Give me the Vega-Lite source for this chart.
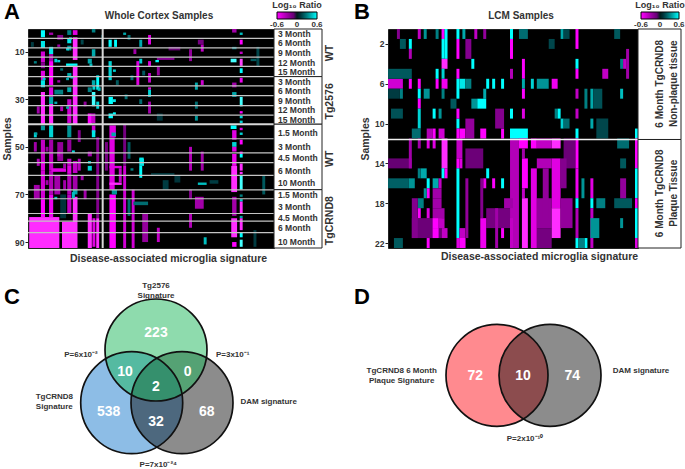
{
"$schema":"https://vega.github.io/schema/vega-lite/v6.json",
"background":"white",
"padding":{"left":1,"top":0,"right":0,"bottom":0},
"bounds":"flush","align":"none","columns":4,"spacing":{"row":22,"column":0},
"resolve":{"scale":{"color":"independent"}},
"config":{"font":"Liberation Sans","view":{"stroke":null}},
"datasets":{
"wc":[
{"g":0.4,"h":10.7,"a":79.5,"b":92.5,"v":-0.65},{"g":11.6,"h":16.7,"a":81.5,"b":92.5,"v":-0.65},{"g":4.4,"h":5.8,"a":1,"b":4,"v":0.6},{"g":4.4,"h":5.8,"a":5.5,"b":8.5,"v":0.55},{"g":4.4,"h":5.8,"a":10,"b":14.5,"v":-0.45},{"g":4.4,"h":5.8,"a":14.5,"b":17,"v":-0.2},{"g":4.4,"h":5.8,"a":18,"b":22,"v":-0.5},{"g":4.4,"h":5.8,"a":22,"b":25,"v":0.55},{"g":4.4,"h":5.8,"a":27,"b":40.5,"v":-0.65},{"g":4.4,"h":5.8,"a":41,"b":43,"v":0.35},{"g":4.4,"h":5.8,"a":47,"b":56,"v":-0.4},{"g":4.4,"h":5.8,"a":56,"b":60,"v":-0.5},{"g":4.4,"h":5.8,"a":60,"b":72,"v":-0.45},{"g":4.4,"h":5.8,"a":72,"b":79.5,"v":-0.6},
{"g":7.2,"h":8.6,"a":2,"b":3,"v":-0.3},{"g":7.2,"h":8.6,"a":8,"b":11,"v":0.55},{"g":7.2,"h":8.6,"a":11,"b":14,"v":-0.3},{"g":7.2,"h":8.6,"a":14,"b":24,"v":-0.6},{"g":7.2,"h":8.6,"a":25,"b":29,"v":-0.5},{"g":7.2,"h":8.6,"a":29,"b":32,"v":0.4},{"g":7.2,"h":8.6,"a":32,"b":40.5,"v":-0.65},{"g":7.2,"h":8.6,"a":41,"b":46,"v":0.5},{"g":7.2,"h":8.6,"a":47,"b":53,"v":-0.3},{"g":7.2,"h":8.6,"a":53,"b":60,"v":-0.4},{"g":7.2,"h":8.6,"a":60,"b":70,"v":-0.35},{"g":7.2,"h":8.6,"a":70,"b":79.5,"v":-0.55},
{"g":10,"h":11,"a":13.5,"b":14.5,"v":0.5},{"g":2,"h":3,"a":44,"b":46,"v":0.5},{"g":8,"h":13,"a":59,"b":60.5,"v":-0.5},{"g":9,"h":12,"a":26,"b":28,"v":0.3},{"g":10,"h":12,"a":3,"b":5,"v":-0.2},{"g":2,"h":4,"a":66,"b":72,"v":-0.3},{"g":10,"h":12,"a":48,"b":56,"v":-0.25},{"g":9,"h":11,"a":62,"b":70,"v":-0.3},{"g":11,"h":13,"a":70,"b":80,"v":0.1},
{"g":13.4,"h":14.8,"a":1,"b":3,"v":0.3},{"g":13.4,"h":14.8,"a":4.5,"b":6.5,"v":0.55},{"g":13.4,"h":14.8,"a":7.5,"b":9.5,"v":0.35},{"g":13,"h":16.9,"a":15,"b":16,"v":0.6},{"g":13.4,"h":14.8,"a":19,"b":21,"v":0.4},{"g":13.4,"h":14.8,"a":25,"b":27,"v":0.4},{"g":13.4,"h":14.8,"a":30,"b":33,"v":-0.4},{"g":13.4,"h":14.8,"a":33,"b":40,"v":-0.45},{"g":13.4,"h":14.8,"a":41,"b":46,"v":0.35},{"g":13.4,"h":14.8,"a":47,"b":52,"v":-0.25},{"g":13.4,"h":14.8,"a":55,"b":58,"v":-0.4},{"g":13.4,"h":14.8,"a":58,"b":61,"v":-0.5},{"g":13.4,"h":14.8,"a":61,"b":70,"v":-0.35},{"g":13.4,"h":14.8,"a":70,"b":78,"v":-0.4},
{"g":15.3,"h":16.9,"a":1,"b":3,"v":-0.5},{"g":15.3,"h":16.9,"a":4,"b":13.5,"v":-0.65},{"g":15.3,"h":16.9,"a":16,"b":40.5,"v":-0.65},{"g":15.3,"h":16.9,"a":56,"b":61,"v":-0.4},{"g":15.3,"h":16.9,"a":62,"b":68,"v":-0.3},{"g":15.3,"h":16.9,"a":68,"b":70,"v":0.4},{"g":15.3,"h":16.9,"a":71,"b":92.5,"v":-0.65},
{"g":20.4,"h":21.8,"a":13,"b":15,"v":0.4},{"g":20.4,"h":21.8,"a":25,"b":27,"v":0.3},{"g":20.4,"h":21.8,"a":36,"b":40.5,"v":-0.6},{"g":20.4,"h":21.8,"a":58,"b":60,"v":0.5},{"g":20.4,"h":21.8,"a":52,"b":54,"v":-0.3},{"g":20.4,"h":21.8,"a":78,"b":92.5,"v":-0.65},
{"g":21.8,"h":23,"a":0.5,"b":2,"v":0.3},{"g":21.8,"h":23,"a":9,"b":12,"v":0.4},{"g":21.8,"h":23,"a":22,"b":24,"v":0.4},{"g":21.8,"h":23,"a":27,"b":33,"v":0.65},{"g":21.8,"h":23,"a":36,"b":40,"v":-0.4},{"g":21.8,"h":23,"a":41,"b":44,"v":-0.45},{"g":21.8,"h":23,"a":43,"b":46,"v":0.55},{"g":22,"h":23,"a":80,"b":92,"v":-0.5},{"g":23.3,"h":24.3,"a":20,"b":26,"v":0.6},{"g":23.3,"h":24.3,"a":31,"b":34,"v":0.5},{"g":23.3,"h":24.3,"a":46,"b":80,"v":-0.2},{"g":23.3,"h":24.3,"a":80,"b":92.5,"v":-0.65},
{"g":27.5,"h":28.6,"a":5,"b":8,"v":0.6},{"g":27.5,"h":28.6,"a":14,"b":22,"v":0.5},{"g":29.4,"h":30.4,"a":5,"b":8,"v":0.6},{"g":27.5,"h":29,"a":29,"b":32,"v":0.6},{"g":27.5,"h":29,"a":36,"b":38,"v":0.6},{"g":27.8,"h":30,"a":41,"b":46,"v":-0.5},{"g":27.8,"h":29.6,"a":46,"b":68,"v":-0.5},{"g":27.8,"h":32,"a":58,"b":59,"v":-0.5},{"g":27.8,"h":32,"a":65,"b":66,"v":-0.65},{"g":27.8,"h":30,"a":70,"b":92.5,"v":-0.6},{"g":28.6,"h":30.4,"a":68,"b":70,"v":0.35},{"g":31,"h":32,"a":59,"b":65,"v":-0.4},
{"g":32.5,"h":33.5,"a":2,"b":3,"v":0.4},{"g":32.5,"h":33.5,"a":40.5,"b":58,"v":-0.15},{"g":32.5,"h":33.5,"a":58,"b":92.5,"v":-0.45},{"g":35.4,"h":36.4,"a":68,"b":92.5,"v":-0.45},{"g":38,"h":39.6,"a":55,"b":58,"v":0.55},{"g":38,"h":39,"a":58,"b":63,"v":0.6},{"g":34,"h":35,"a":72,"b":79,"v":0.25},{"g":36,"h":41,"a":73,"b":74.5,"v":0.25},{"g":37,"h":38,"a":14,"b":24,"v":-0.5},{"g":38,"h":39,"a":5,"b":8,"v":0.4},{"g":41,"h":42,"a":3,"b":7,"v":-0.5},{"g":41,"h":42,"a":14,"b":16,"v":-0.5},{"g":41,"h":42,"a":19,"b":23,"v":-0.4},{"g":41,"h":42,"a":25,"b":26,"v":-0.5},{"g":41,"h":42,"a":26,"b":29,"v":0.5},{"g":41,"h":42,"a":31,"b":36,"v":-0.3},{"g":34,"h":35,"a":48,"b":55,"v":0.2},{"g":39,"h":41,"a":78,"b":90,"v":-0.25},{"g":38,"h":39,"a":13,"b":15,"v":0.5},
{"g":14,"h":15,"a":4,"b":5,"v":0.5},{"g":13,"h":14,"a":8.5,"b":9.5,"v":0.5},{"g":9,"h":10,"a":13,"b":14.5,"v":0.5},{"g":21,"h":22,"a":15,"b":16.5,"v":0.45},{"g":29,"h":30,"a":17.5,"b":18.5,"v":0.5},{"g":5,"h":6,"a":21,"b":22,"v":0.5},{"g":13,"h":14,"a":21,"b":22,"v":0.4},{"g":14.5,"h":15.5,"a":20.3,"b":21.3,"v":0.45},{"g":23.8,"h":24.8,"a":25,"b":26.5,"v":0.45},{"g":22,"h":23,"a":24.5,"b":26,"v":0.5},{"g":29,"h":30,"a":30,"b":31.2,"v":0.55},{"g":9,"h":10,"a":31,"b":32,"v":0.4},{"g":13,"h":14,"a":33,"b":34,"v":0.4},{"g":29,"h":30,"a":35.5,"b":36.5,"v":0.6},{"g":2.2,"h":3.2,"a":44,"b":45,"v":0.4},{"g":28.5,"h":30,"a":44,"b":45.5,"v":0.4},{"g":15,"h":16,"a":51.5,"b":52.5,"v":0.5},{"g":20.5,"h":21.5,"a":56,"b":57,"v":0.5},{"g":38,"h":39.5,"a":54.5,"b":55.5,"v":0.55},{"g":35,"h":36,"a":59,"b":60,"v":0.3},{"g":9,"h":10,"a":71,"b":72,"v":0.45},{"g":15,"h":16,"a":69,"b":71.5,"v":0.45},
{"g":1,"h":2,"a":6,"b":8,"v":0.12},{"g":10,"h":11,"a":7,"b":8,"v":-0.3},{"g":11,"h":12,"a":17,"b":18,"v":0.25},{"g":2,"h":3,"a":14,"b":15,"v":0.3},{"g":10,"h":11,"a":22,"b":23,"v":-0.3},{"g":11,"h":12,"a":33,"b":35,"v":-0.35},{"g":3,"h":4,"a":33,"b":36,"v":-0.3},{"g":2,"h":3,"a":48,"b":52,"v":-0.3},{"g":3,"h":4,"a":55,"b":58,"v":-0.35},{"g":6,"h":7,"a":50,"b":52,"v":-0.25},{"g":10,"h":11,"a":52,"b":54,"v":-0.35},{"g":12,"h":13,"a":57,"b":59,"v":-0.3},{"g":6,"h":7,"a":64,"b":66,"v":-0.3},{"g":12,"h":13,"a":64,"b":68,"v":-0.3},{"g":17,"h":18,"a":43,"b":48,"v":-0.2},{"g":17,"h":18,"a":55,"b":60,"v":-0.35},{"g":25,"h":25.5,"a":3,"b":9,"v":0.15},{"g":34,"h":35,"a":3,"b":5,"v":0.25},{"g":35,"h":36,"a":20,"b":22,"v":0.25},{"g":36,"h":37,"a":9,"b":11,"v":-0.3},{"g":30,"h":31,"a":22,"b":24,"v":0.2},{"g":39,"h":40,"a":18,"b":20,"v":0.2},{"g":33,"h":34,"a":28,"b":30,"v":0.25},{"g":38,"h":39,"a":30,"b":32,"v":0.25},{"g":18,"h":19,"a":5,"b":7,"v":0.15},{"g":19,"h":20,"a":31,"b":33,"v":-0.25},{"g":26.3,"h":27.3,"a":48,"b":60,"v":-0.15},{"g":18,"h":19,"a":62,"b":64,"v":-0.3},{"g":19,"h":20,"a":68,"b":72,"v":-0.3},
{"g":43.5,"h":44.7,"a":13.5,"b":14.5,"v":0.6},{"g":44,"h":50,"a":12.5,"b":13.5,"v":-0.2},{"g":44,"h":45,"a":16,"b":20,"v":-0.25},{"g":44,"h":45,"a":84,"b":90,"v":-0.4},{"g":55,"h":56,"a":9,"b":14,"v":-0.25},{"g":55,"h":56,"a":50,"b":60,"v":-0.35},{"g":55,"h":56,"a":68,"b":72,"v":-0.2},{"g":55,"h":56,"a":78,"b":84,"v":-0.35},{"g":57,"h":58,"a":23,"b":26,"v":0.4},{"g":57,"h":58,"a":31,"b":34,"v":0.25},{"g":57,"h":58,"a":37,"b":39,"v":0.35},{"g":59,"h":60,"a":7,"b":10,"v":-0.4},{"g":59,"h":60,"a":22,"b":24,"v":-0.45},{"g":59,"h":60,"a":52,"b":60,"v":-0.3},{"g":58,"h":61,"a":65,"b":66,"v":0.45},{"g":57,"h":60,"a":71,"b":76,"v":-0.3},{"g":60,"h":61,"a":88,"b":91,"v":0.45},{"g":42,"h":50,"a":61,"b":62,"v":0.1},{"g":44,"h":46,"a":36,"b":39,"v":0.1},{"g":46,"h":48,"a":64,"b":68,"v":0.12},{"g":80,"h":81,"a":62,"b":70,"v":0.2},{"g":78,"h":79,"a":8,"b":16,"v":0.15},{"g":76,"h":78,"a":13,"b":14,"v":0.2},{"g":77,"h":78,"a":85,"b":92,"v":0.12},{"g":50,"h":52,"a":62,"b":65,"v":0.1},{"g":62,"h":65,"a":64,"b":65.5,"v":0.12},{"g":48,"h":52,"a":8,"b":9.5,"v":-0.1},{"g":58,"h":60,"a":5,"b":7,"v":-0.15},
{"g":69.7,"h":71.2,"a":0.5,"b":2,"v":-0.3},{"g":69.7,"h":71.2,"a":8,"b":9,"v":0.3},{"g":69.2,"h":71.2,"a":13,"b":14.5,"v":0.65},{"g":69.7,"h":71.2,"a":23,"b":25,"v":-0.3},{"g":69.7,"h":71.2,"a":27,"b":29,"v":0.4},{"g":69.2,"h":71.2,"a":41,"b":42.5,"v":0.6},{"g":69.7,"h":71.2,"a":43,"b":47,"v":-0.5},{"g":69.7,"h":71.2,"a":48,"b":50,"v":0.5},{"g":69.7,"h":71.2,"a":50,"b":52,"v":-0.5},{"g":69.7,"h":71.2,"a":53,"b":58,"v":-0.55},{"g":69.4,"h":71.4,"a":58,"b":69,"v":-0.65},{"g":69.7,"h":71.2,"a":71,"b":79,"v":-0.3},{"g":69.4,"h":71.4,"a":80,"b":88,"v":-0.65},{"g":69.7,"h":71.2,"a":90,"b":92,"v":-0.6},
{"g":72.3,"h":73.3,"a":2,"b":3,"v":0.45},{"g":72.3,"h":73.3,"a":5,"b":7,"v":-0.6},{"g":72.3,"h":73.3,"a":10,"b":11,"v":-0.4},{"g":72.3,"h":73.3,"a":13,"b":16,"v":-0.7},{"g":72.3,"h":73.3,"a":17,"b":19,"v":0.6},{"g":72.3,"h":73.3,"a":21,"b":23,"v":-0.55},{"g":72.3,"h":73.3,"a":29,"b":33,"v":0.65},{"g":72.3,"h":73.3,"a":35,"b":36,"v":-0.6},{"g":72.3,"h":73.3,"a":37,"b":38,"v":0.5},{"g":72.3,"h":73.3,"a":39,"b":40,"v":0.5},{"g":72.3,"h":73.3,"a":42,"b":43,"v":-0.5},{"g":72.3,"h":73.3,"a":44,"b":45,"v":0.5},{"g":72.3,"h":73.3,"a":47,"b":49,"v":-0.6},{"g":72.3,"h":73.3,"a":52,"b":53,"v":-0.6},{"g":72.3,"h":73.3,"a":53,"b":54.5,"v":0.6},{"g":72.3,"h":73.3,"a":57,"b":60,"v":-0.65},{"g":72.3,"h":73.3,"a":60.5,"b":61.5,"v":-0.65},{"g":72.3,"h":73.3,"a":62,"b":68,"v":0.65},{"g":72.3,"h":73.3,"a":70,"b":71,"v":0.3},{"g":72.3,"h":73.3,"a":72,"b":73,"v":0.5},{"g":72.3,"h":73.3,"a":73,"b":78,"v":-0.65},{"g":72.3,"h":73.3,"a":79,"b":80,"v":0.4},{"g":72.3,"h":73.3,"a":80,"b":85,"v":-0.65},{"g":72.3,"h":73.3,"a":86,"b":88,"v":0.6},{"g":72.3,"h":73.3,"a":89,"b":92,"v":0.65}
],
"wcsep":[{"s":4.4},{"s":8.4},{"s":12.3},{"s":16.2},{"s":20.5},{"s":24.4},{"s":28.5},{"s":32.7},{"s":36.7},{"s":46.6},{"s":52.5},{"s":56.6},{"s":62},{"s":68.1},{"s":71.8},{"s":78},{"s":81.2},{"s":86}],
"lcm":[
{"g":41,"h":44,"a":11.5,"b":22.5,"v":-0.35},{"g":50,"h":55,"a":17.5,"b":20.5,"v":-0.25},{"g":50,"h":55,"a":20.5,"b":22.5,"v":-0.15},{"g":59,"h":63,"a":11.5,"b":14.5,"v":-0.12},{"g":8,"h":18,"a":19.5,"b":21.5,"v":-0.12},{"g":26,"h":32,"a":12.5,"b":14.5,"v":-0.12},{"g":33,"h":41,"a":18.5,"b":20.5,"v":-0.15},{"g":0,"h":8,"a":13.5,"b":14.5,"v":-0.1},
{"g":18,"h":19,"a":0.5,"b":1.5,"v":-0.6},{"g":19,"h":20,"a":0.5,"b":3.5,"v":0.6},{"g":18,"h":19,"a":1.5,"b":3.5,"v":0.6},{"g":18,"h":20,"a":3.5,"b":4.5,"v":-0.65},{"g":7,"h":8,"a":1.5,"b":2.5,"v":0.6},{"g":7,"h":8,"a":2.5,"b":3.5,"v":-0.35},
{"g":23,"h":24,"a":0.5,"b":1.5,"v":0.6},{"g":23,"h":24,"a":1.5,"b":3.5,"v":-0.6},{"g":23,"h":24,"a":4.5,"b":5.5,"v":-0.6},{"g":23,"h":24,"a":5.5,"b":7.5,"v":0.6},{"g":23,"h":24,"a":9.5,"b":10.5,"v":0.6},{"g":23,"h":24,"a":10.5,"b":11.5,"v":-0.6},{"g":23,"h":25,"a":11.5,"b":13.5,"v":-0.4},{"g":23,"h":24,"a":13.5,"b":14.5,"v":-0.6},{"g":23,"h":24,"a":14.5,"b":21.5,"v":0.6},{"g":23,"h":24,"a":21.5,"b":22.5,"v":-0.5},{"g":24,"h":26,"a":10.5,"b":11.5,"v":-0.6},{"g":24,"h":25,"a":13.5,"b":14.5,"v":-0.5},{"g":24,"h":26,"a":20.5,"b":22.5,"v":-0.4},{"g":25,"h":26,"a":0.5,"b":1.5,"v":0.4},{"g":28,"h":29,"a":3.5,"b":4.5,"v":0.6},
{"g":0,"h":5,"a":5.5,"b":6.5,"v":-0.45},{"g":7,"h":8,"a":5.5,"b":6.5,"v":-0.6},{"g":10,"h":11,"a":5.5,"b":6.5,"v":-0.6},{"g":16,"h":17,"a":5.5,"b":6.5,"v":-0.6},{"g":18,"h":20,"a":5.5,"b":6.5,"v":-0.55},{"g":24,"h":26,"a":5.5,"b":6.5,"v":0.55},{"g":26,"h":28,"a":5.5,"b":6.5,"v":0.3},{"g":33,"h":34,"a":5.5,"b":6.5,"v":0.6},{"g":35,"h":36,"a":5.5,"b":6.5,"v":0.6},{"g":38,"h":39,"a":5.5,"b":6.5,"v":0.6},{"g":0,"h":8,"a":4.5,"b":5.5,"v":0.2},{"g":16,"h":17,"a":4.5,"b":5.5,"v":0.6},{"g":18,"h":19,"a":4.5,"b":5.5,"v":0.5},
{"g":10,"h":11,"a":6.5,"b":7.5,"v":0.6},{"g":10,"h":11,"a":7.5,"b":8.5,"v":-0.6},{"g":10,"h":11,"a":8.5,"b":10.5,"v":0.5},{"g":12,"h":14,"a":6.5,"b":7.5,"v":0.35},{"g":4,"h":5,"a":6.5,"b":7.5,"v":0.3},{"g":0,"h":4,"a":6.5,"b":7.5,"v":0.12},{"g":18,"h":19,"a":6.5,"b":7.5,"v":0.3},{"g":32,"h":33,"a":6.5,"b":7.5,"v":0.4},{"g":28,"h":30,"a":7.5,"b":8.5,"v":0.35},{"g":30,"h":33,"a":7.5,"b":8.5,"v":0.6},{"g":21,"h":23,"a":7.5,"b":8.5,"v":0.2},{"g":15,"h":16,"a":8.5,"b":9.5,"v":0.6},{"g":17,"h":18,"a":8.5,"b":9.5,"v":0.35},{"g":23,"h":24,"a":8.5,"b":9.5,"v":-0.6},{"g":1,"h":5,"a":8.5,"b":9.5,"v":0.18},{"g":8,"h":11,"a":10.5,"b":11.5,"v":0.25},{"g":13,"h":15,"a":10.5,"b":11.5,"v":-0.35},{"g":15,"h":16,"a":10.5,"b":11.5,"v":-0.6},{"g":17,"h":19,"a":10.5,"b":11.5,"v":-0.45},{"g":31,"h":33,"a":10.5,"b":11.5,"v":-0.6},{"g":38,"h":39,"a":10.5,"b":11.5,"v":-0.6},{"g":41,"h":42,"a":10.5,"b":11.5,"v":0.6},
{"g":18,"h":20,"a":11.5,"b":14.5,"v":-0.65},{"g":18,"h":19,"a":14.5,"b":15.5,"v":0.6},{"g":19,"h":20,"a":14.5,"b":15.5,"v":-0.6},{"g":7,"h":8,"a":11.5,"b":14.5,"v":-0.3},{"g":10,"h":11,"a":11.5,"b":12.5,"v":-0.3},{"g":13,"h":14,"a":11.5,"b":12.5,"v":-0.5},{"g":15,"h":16,"a":11.5,"b":12.5,"v":-0.5},{"g":11,"h":13,"a":14.5,"b":15.5,"v":0.4},{"g":10,"h":11,"a":14.5,"b":15.5,"v":0.3},{"g":33,"h":34,"a":14.5,"b":15.5,"v":0.6},{"g":0,"h":7,"a":15.5,"b":16.5,"v":0.22},{"g":7,"h":9,"a":15.5,"b":16.5,"v":0.35},{"g":13,"h":14,"a":15.5,"b":16.5,"v":0.6},{"g":15,"h":17,"a":15.5,"b":16.5,"v":0.4},{"g":17,"h":18,"a":15.5,"b":16.5,"v":-0.4},{"g":32,"h":33,"a":15.5,"b":16.5,"v":-0.55},{"g":35,"h":36,"a":15.5,"b":16.5,"v":-0.6},{"g":38,"h":39,"a":15.5,"b":16.5,"v":0.6},
{"g":13,"h":14,"a":16.5,"b":17.5,"v":-0.6},{"g":12,"h":13,"a":16.5,"b":17.5,"v":0.35},{"g":15,"h":18,"a":16.5,"b":17.5,"v":-0.3},{"g":10,"h":12,"a":17.5,"b":18.5,"v":0.3},{"g":15,"h":18,"a":17.5,"b":18.5,"v":-0.3},{"g":10,"h":11,"a":18.5,"b":19.5,"v":-0.6},{"g":13,"h":14,"a":18.5,"b":19.5,"v":-0.5},{"g":15,"h":19,"a":18.5,"b":19.5,"v":-0.3},{"g":15,"h":17,"a":19.5,"b":20.5,"v":-0.6},{"g":17,"h":19,"a":19.5,"b":20.5,"v":-0.4},{"g":15,"h":17,"a":20.5,"b":21.5,"v":-0.6},{"g":18,"h":20,"a":20.5,"b":21.5,"v":-0.4},{"g":2,"h":5,"a":21.5,"b":22.5,"v":0.2},{"g":13,"h":14,"a":21.5,"b":22.5,"v":-0.6},{"g":24,"h":26,"a":21.5,"b":22.5,"v":-0.6},{"g":31,"h":33,"a":19.5,"b":22.5,"v":-0.55},{"g":38,"h":39,"a":20.5,"b":21.5,"v":-0.6},{"g":41,"h":42,"a":19.5,"b":22.5,"v":-0.4},{"g":39,"h":42,"a":17.5,"b":18.5,"v":-0.3},{"g":31,"h":32,"a":15.5,"b":19.5,"v":-0.2},{"g":36,"h":37,"a":18.5,"b":22.5,"v":-0.3},
{"g":41,"h":42,"a":0.5,"b":1.5,"v":0.6},{"g":41,"h":42,"a":1.5,"b":3.5,"v":-0.6},{"g":41,"h":42,"a":4.5,"b":5.5,"v":-0.35},{"g":41,"h":42,"a":8.5,"b":9.5,"v":0.6},{"g":44,"h":47,"a":0.5,"b":1.5,"v":0.25},{"g":45,"h":46,"a":3.5,"b":5.5,"v":-0.6},{"g":45,"h":46,"a":5.5,"b":6.5,"v":0.4},{"g":45,"h":46,"a":6.5,"b":7.5,"v":-0.6},{"g":45,"h":46,"a":8.5,"b":9.5,"v":-0.5},{"g":42,"h":47,"a":10.5,"b":11.5,"v":0.6},{"g":48,"h":49,"a":5.5,"b":6.5,"v":0.5},{"g":50,"h":54,"a":5.5,"b":6.5,"v":0.35},{"g":55,"h":57,"a":5.5,"b":6.5,"v":-0.55},{"g":56,"h":57,"a":8.5,"b":9.5,"v":0.3},{"g":57,"h":58,"a":8.5,"b":9.5,"v":0.6},{"g":58,"h":59,"a":9.5,"b":10.5,"v":0.5},{"g":59,"h":61,"a":9.5,"b":10.5,"v":0.25},
{"g":63,"h":64,"a":0.5,"b":2.5,"v":-0.6},{"g":63,"h":64,"a":3.5,"b":4.5,"v":0.6},{"g":63,"h":64,"a":4.5,"b":5.5,"v":-0.6},{"g":63,"h":64,"a":6.5,"b":7.5,"v":-0.4},{"g":63,"h":64,"a":8.5,"b":9.5,"v":-0.4},{"g":63,"h":64,"a":10.5,"b":11.5,"v":0.6},{"g":63,"h":64,"a":11.5,"b":14.5,"v":-0.6},{"g":63,"h":64,"a":14.5,"b":17.5,"v":-0.55},{"g":63,"h":64,"a":17.5,"b":18.5,"v":0.6},{"g":63,"h":64,"a":18.5,"b":21.5,"v":-0.35},{"g":63,"h":64,"a":21.5,"b":22.5,"v":0.6},
{"g":66,"h":67,"a":6.5,"b":8.5,"v":0.3},{"g":68,"h":69,"a":6.5,"b":8.5,"v":0.4},{"g":69,"h":72,"a":6.5,"b":8.5,"v":0.18},{"g":68,"h":69,"a":9.5,"b":10.5,"v":0.4},{"g":78,"h":79,"a":3.5,"b":4.5,"v":0.3},{"g":78,"h":79,"a":6.5,"b":7.5,"v":0.45},{"g":79,"h":80,"a":3.5,"b":4.5,"v":-0.4},{"g":76,"h":78,"a":0.5,"b":1.5,"v":0.2},{"g":58,"h":59,"a":0.5,"b":1.5,"v":0.4},{"g":59,"h":61,"a":0.5,"b":1.5,"v":0.15},
{"g":83,"h":84,"a":10.5,"b":11.5,"v":0.6},{"g":83,"h":84,"a":11.5,"b":14.5,"v":-0.6},{"g":83,"h":84,"a":14.5,"b":17.5,"v":0.6},{"g":83,"h":84,"a":17.5,"b":18.5,"v":-0.6},{"g":83,"h":84,"a":18.5,"b":21.5,"v":0.6},{"g":83,"h":84,"a":21.5,"b":22.5,"v":-0.5},
{"g":44,"h":47,"a":11.5,"b":12.5,"v":-0.6},{"g":45,"h":46,"a":12.5,"b":13.5,"v":-0.3},{"g":45,"h":47,"a":13.5,"b":16.5,"v":-0.6},{"g":45,"h":46,"a":16.5,"b":17.5,"v":-0.4},{"g":45,"h":47,"a":17.5,"b":22.5,"v":-0.65},{"g":48,"h":50,"a":11.5,"b":12.5,"v":-0.6},{"g":48,"h":50,"a":14.5,"b":22.5,"v":-0.5},{"g":50,"h":55,"a":11.5,"b":12.5,"v":-0.4},{"g":50,"h":55,"a":13.5,"b":14.5,"v":-0.35},{"g":52,"h":54,"a":14.5,"b":19.5,"v":-0.25},{"g":55,"h":58,"a":11.5,"b":12.5,"v":-0.65},{"g":55,"h":58,"a":13.5,"b":18.5,"v":-0.5},{"g":55,"h":58,"a":18.5,"b":21.5,"v":-0.65},{"g":58,"h":62,"a":17.5,"b":20.5,"v":-0.25},{"g":58,"h":60,"a":13.5,"b":16.5,"v":-0.2},
{"g":65,"h":66,"a":15.5,"b":17.5,"v":0.35},{"g":68,"h":69,"a":15.5,"b":17.5,"v":-0.5},{"g":68,"h":69,"a":17.5,"b":18.5,"v":0.6},{"g":68,"h":69,"a":18.5,"b":22.5,"v":-0.4},{"g":70,"h":73,"a":17.5,"b":18.5,"v":0.3},{"g":76,"h":82,"a":17.5,"b":18.5,"v":0.2},{"g":77,"h":81,"a":11.5,"b":12.5,"v":0.25},{"g":78,"h":80,"a":13.5,"b":14.5,"v":0.2},{"g":68,"h":71,"a":19.5,"b":21.5,"v":0.35},{"g":78,"h":79,"a":19.5,"b":20.5,"v":0.35},{"g":66,"h":67,"a":21.5,"b":22.5,"v":0.6},{"g":64,"h":66,"a":21.5,"b":22.5,"v":0.3},
{"g":3,"h":4,"a":0.5,"b":1.5,"v":-0.2},{"g":10,"h":11,"a":0.5,"b":1.5,"v":-0.4},{"g":12,"h":13,"a":0.5,"b":1.5,"v":0.35},{"g":16,"h":17,"a":0.5,"b":1.5,"v":0.3},{"g":29,"h":30,"a":0.5,"b":1.5,"v":-0.4},{"g":32,"h":33,"a":0.5,"b":1.5,"v":-0.25},{"g":54,"h":56,"a":1.5,"b":2.5,"v":0.15},{"g":26,"h":28,"a":1.5,"b":3.5,"v":-0.2},{"g":4,"h":6,"a":1.5,"b":2.5,"v":0.2},{"g":36,"h":39,"a":8.5,"b":10.5,"v":-0.2},{"g":26,"h":29,"a":9.5,"b":11.5,"v":-0.25},{"g":72,"h":74,"a":4.5,"b":5.5,"v":-0.4},{"g":80,"h":81,"a":2.5,"b":5.5,"v":-0.3},{"g":70,"h":74,"a":9.5,"b":11.5,"v":0.15},{"g":8,"h":10,"a":17.5,"b":21.5,"v":-0.2},{"g":26,"h":27,"a":15.5,"b":21.5,"v":-0.25},{"g":78,"h":80,"a":15.5,"b":17.5,"v":-0.25}
],
"wcann":[
{"m":"3 Month","s":2.5},{"m":"6 Month","s":6.5},{"m":"9 Month","s":10.6},{"m":"12 Month","s":14.7},{"m":"15 Month","s":18.5},{"m":"3 Month","s":22.6},{"m":"6 Month","s":26.7},{"m":"9 Month","s":30.6},{"m":"12 Month","s":34.5},{"m":"15 Month","s":38.6},{"m":"1.5 Month","s":44},{"m":"3 Month","s":49.9},{"m":"4.5 Month","s":54.8},{"m":"6 Month","s":60},{"m":"10 Month","s":65.2},{"m":"1.5 Month","s":70.1},{"m":"3 Month","s":75.2},{"m":"4.5 Month","s":79.7},{"m":"6 Month","s":83.9},{"m":"10 Month","s":90}],
"wcgrp":[{"t":"WT","a":0.5,"b":20.5,"c":10.6},{"t":"Tg2576","a":20.5,"b":40.5,"c":30.9},{"t":"WT","a":40.5,"b":68,"c":55},{"t":"TgCRND8","a":68,"b":92.5,"c":81}],
"lcmgrp":[{"t":"6 Month  TgCRND8\nNon-plaque tissue","a":0.5,"b":11.6,"c":6},{"t":"6 Month TgCRND8\nPlaque Tissue","a":11.6,"b":22.5,"c":17}]
},
"concat":[
{"width":246,"height":219,
 "layer":[
 {"data":{"name":"wc"},"mark":{"type":"rect"},"encoding":{
  "x":{"field":"g","type":"quantitative","scale":{"domain":[0,84],"nice":false,"zero":false},"axis":{"labels":false,"ticks":false,"domain":false,"grid":false,"title":"Disease-associated  microglia  signature","titleFontSize":10.5,"titleFontWeight":"bold","titleColor":"#333","titleX":140,"titleY":5}},
  "x2":{"field":"h"},
  "y":{"field":"a","type":"quantitative","scale":{"domain":[0.5,92.5],"reverse":true,"nice":false,"zero":false},"axis":{"values":[10,20,30,40,50,60,70,80,90],"labelFontSize":8.5,"labelFontWeight":"bold","labelColor":"#333","tickSize":3,"tickColor":"#222","domain":false,"grid":false,"title":"Samples","titleFontSize":10.5,"titleFontWeight":"bold","titleColor":"#333","titleX":-16,"labelPadding":1}},
  "y2":{"field":"b"},
  "color":{"field":"v","type":"quantitative","scale":{"domain":[-0.6,0,0.6],"range":["#ff00ff","#000000","#00ffff"]},"legend":{"orient":"none","legendX":244,"legendY":-28,"direction":"horizontal","gradientLength":40,"gradientThickness":7,"gradientStrokeColor":"#000","gradientStrokeWidth":1,"values":[-0.6,0,0.6],"labelExpr":"datum.value==0?'0':datum.value<0?'-0.6':'0.6'","labelFontSize":8,"labelFontWeight":"bold","labelColor":"#333","title":"Log₁₀ Ratio","titleFontSize":9,"titleFontWeight":"bold","titleColor":"#333","titleOrient":"top","titleAnchor":"middle","titlePadding":2,"encode":{"labels":{"update":{"align":{"value":"center"}}}}}}
 }},
 {"data":{"name":"wcsep"},"mark":{"type":"rule","color":"#c4c4c4","strokeWidth":1.2},"encoding":{"y":{"field":"s","type":"quantitative"}}},
 {"data":{"values":[{"s":40.5}]},"mark":{"type":"rule","color":"#d8d8d8","strokeWidth":2},"encoding":{"y":{"field":"s","type":"quantitative"}}},
 {"data":{"values":[{"g":25.5}]},"mark":{"type":"rule","color":"#d8d8d8","strokeWidth":2},"encoding":{"x":{"field":"g","type":"quantitative"}}},
 {"data":{"values":[{"t":"Whole Cortex Samples"}]},"mark":{"type":"text","fontSize":10,"fontWeight":"bold","color":"#333","baseline":"middle"},"encoding":{"text":{"field":"t"},"x":{"value":131},"y":{"value":-13}}},
 {"data":{"values":[{"t":"A"}]},"mark":{"type":"text","fontSize":22,"fontWeight":"bold","color":"#000","align":"left","baseline":"middle"},"encoding":{"text":{"field":"t"},"x":{"value":-24},"y":{"value":-17}}}
 ],
 "view":{"fill":"#000","stroke":"#222"}
},
{"width":114,"height":219,
 "layer":[
 {"data":{"name":"wcgrp"},"mark":{"type":"rect","fill":"white","stroke":"#222","strokeWidth":1},"encoding":{"x":{"value":0},"x2":{"value":48},"y":{"field":"a","type":"quantitative","scale":{"domain":[0.5,92.5],"reverse":true,"nice":false,"zero":false},"axis":null},"y2":{"field":"b"}}},
 {"data":{"name":"wcann"},"mark":{"type":"text","fontSize":8.5,"fontWeight":"bold","color":"#333","align":"left","baseline":"middle"},"encoding":{"text":{"field":"m"},"x":{"value":4},"y":{"field":"s","type":"quantitative"}}},
 {"data":{"name":"wcgrp"},"mark":{"type":"text","fontSize":10.5,"fontWeight":"bold","color":"#333","angle":270,"baseline":"middle"},"encoding":{"text":{"field":"t"},"x":{"value":56},"y":{"field":"c","type":"quantitative"}}}
 ]
},
{"width":250,"height":219,
 "layer":[
 {"data":{"name":"lcm"},"mark":{"type":"rect"},"encoding":{
  "x":{"field":"g","type":"quantitative","scale":{"domain":[0,84],"nice":false,"zero":false},"axis":{"labels":false,"ticks":false,"domain":false,"grid":false,"title":"Disease-associated  microglia  signature","titleFontSize":10.5,"titleFontWeight":"bold","titleColor":"#333","titleX":151,"titleY":3}},
  "x2":{"field":"h"},
  "y":{"field":"a","type":"quantitative","scale":{"domain":[0.5,22.5],"reverse":true,"nice":false,"zero":false},"axis":{"values":[2,4,6,8,10,12,14,16,18,20,22],"labelFontSize":8.5,"labelFontWeight":"bold","labelColor":"#333","tickSize":3,"tickColor":"#222","domain":false,"grid":false,"title":"Samples","titleFontSize":10.5,"titleFontWeight":"bold","titleColor":"#333","titleX":-18,"labelPadding":1}},
  "y2":{"field":"b"},
  "color":{"field":"v","type":"quantitative","scale":{"domain":[-0.6,0,0.6],"range":["#ff00ff","#000000","#00ffff"]},"legend":{"orient":"none","legendX":247,"legendY":-28,"direction":"horizontal","gradientLength":38,"gradientThickness":7,"gradientStrokeColor":"#000","gradientStrokeWidth":1,"values":[-0.6,0,0.6],"labelExpr":"datum.value==0?'0':datum.value<0?'-0.6':'0.6'","labelFontSize":8,"labelFontWeight":"bold","labelColor":"#333","title":"Log₁₀ Ratio","titleFontSize":9,"titleFontWeight":"bold","titleColor":"#333","titleOrient":"top","titleAnchor":"middle","titlePadding":2,"encode":{"labels":{"update":{"align":{"value":"center"}}}}}}
 }},
 {"data":{"values":[{"s":11.6}]},"mark":{"type":"rule","color":"#f0f0f0","strokeWidth":1.5},"encoding":{"y":{"field":"s","type":"quantitative"}}},
 {"data":{"values":[{"t":"LCM Samples"}]},"mark":{"type":"text","fontSize":10,"fontWeight":"bold","color":"#333","baseline":"middle"},"encoding":{"text":{"field":"t"},"x":{"value":133},"y":{"value":-13}}},
 {"data":{"values":[{"t":"B"}]},"mark":{"type":"text","fontSize":22,"fontWeight":"bold","color":"#000","align":"left","baseline":"middle"},"encoding":{"text":{"field":"t"},"x":{"value":-34},"y":{"value":-17}}}
 ],
 "view":{"fill":"#000","stroke":"#222"}
},
{"width":48,"height":219,
 "layer":[
 {"data":{"name":"lcmgrp"},"mark":{"type":"rect","fill":"white","stroke":"#222","strokeWidth":1},"encoding":{"x":{"value":0},"x2":{"value":43},"y":{"field":"a","type":"quantitative","scale":{"domain":[0.5,22.5],"reverse":true,"nice":false,"zero":false},"axis":null},"y2":{"field":"b"}}},
 {"data":{"name":"lcmgrp"},"mark":{"type":"text","fontSize":10,"fontWeight":"bold","color":"#333","angle":270,"baseline":"middle","lineBreak":"\n","lineHeight":14},"encoding":{"text":{"field":"t"},"x":{"value":22},"y":{"field":"c","type":"quantitative"}}}
 ]
},
{"width":246,"height":199,
 "layer":[
 {"data":{"values":[{"set":"TgCRND8","x":103.7,"y":132.7}]},
  "mark":{"type":"circle","size":10404,"color":"#8dbde6","opacity":1},
  "encoding":{"x":{"field":"x","type":"quantitative","scale":{"domain":[0,246],"nice":false,"zero":false},"axis":null},"y":{"field":"y","type":"quantitative","scale":{"domain":[0,199],"reverse":true,"nice":false,"zero":false},"axis":null}}},
 {"data":{"values":[{"set":"DAM","x":154,"y":132.7}]},
  "mark":{"type":"circle","size":10404,"color":"#000000","opacity":0.45},
  "encoding":{"x":{"field":"x","type":"quantitative"},"y":{"field":"y","type":"quantitative"}}},
 {"data":{"values":[{"set":"Tg2576","x":128,"y":80}]},
  "mark":{"type":"circle","size":10404,"color":"#1eb85c","opacity":0.5},
  "encoding":{"x":{"field":"x","type":"quantitative"},"y":{"field":"y","type":"quantitative"}}},
 {"data":{"values":[{"set":"TgCRND8","x":103.7,"y":132.7},{"set":"DAM","x":154,"y":132.7},{"set":"Tg2576","x":128,"y":80}]},
  "mark":{"type":"point","size":10404,"shape":"circle","filled":false,"stroke":"#111","strokeWidth":1.7,"opacity":1},
  "encoding":{"x":{"field":"x","type":"quantitative"},"y":{"field":"y","type":"quantitative"}}},
 {"data":{"values":[{"t":"223","x":128,"y":62.7},{"t":"10","x":97,"y":101.7},{"t":"0","x":159.7,"y":101.7},{"t":"2","x":128,"y":116.7},{"t":"538","x":80.7,"y":142.3},{"t":"32","x":128,"y":151.7},{"t":"68","x":178.7,"y":142.3}]},
  "mark":{"type":"text","fontSize":14,"fontWeight":"bold","color":"white","baseline":"middle"},
  "encoding":{"text":{"field":"t"},"x":{"field":"x","type":"quantitative"},"y":{"field":"y","type":"quantitative"}}},
 {"data":{"values":[{"t":"Tg2576","x":128,"y":16},{"t":"Signature","x":128,"y":25.7},{"t":"P=6x10⁻²","x":53,"y":85},{"t":"P=3x10⁻¹","x":204.7,"y":85},{"t":"TgCRND8","x":26.3,"y":126.7},{"t":"Signature","x":26.3,"y":136.7},{"t":"DAM signature","x":240.7,"y":132.3},{"t":"P=7x10⁻²⁴","x":130.3,"y":195}]},
  "mark":{"type":"text","fontSize":8,"fontWeight":"bold","color":"#333","baseline":"middle"},
  "encoding":{"text":{"field":"t"},"x":{"field":"x","type":"quantitative"},"y":{"field":"y","type":"quantitative"}}},
 {"data":{"values":[{"t":"C"}]},"mark":{"type":"text","fontSize":22,"fontWeight":"bold","color":"#000","align":"left","baseline":"middle"},"encoding":{"text":{"field":"t"},"x":{"value":-24},"y":{"value":27}}}
 ]
},
{"width":114,"height":199,"data":{"values":[{"t":""}]},"mark":{"type":"text"},"encoding":{"text":{"field":"t"}}},
{"width":250,"height":199,
 "layer":[
 {"data":{"values":[{"set":"Plaque","x":109,"y":105.3}]},
  "mark":{"type":"circle","size":10404,"color":"#ff8a8f","opacity":1},
  "encoding":{"x":{"field":"x","type":"quantitative","scale":{"domain":[0,250],"nice":false,"zero":false},"axis":null},"y":{"field":"y","type":"quantitative","scale":{"domain":[0,199],"reverse":true,"nice":false,"zero":false},"axis":null}}},
 {"data":{"values":[{"set":"DAM","x":162,"y":105.3}]},
  "mark":{"type":"circle","size":10404,"color":"#000000","opacity":0.45},
  "encoding":{"x":{"field":"x","type":"quantitative"},"y":{"field":"y","type":"quantitative"}}},
 {"data":{"values":[{"set":"Plaque","x":109,"y":105.3},{"set":"DAM","x":162,"y":105.3}]},
  "mark":{"type":"point","size":10404,"shape":"circle","filled":false,"stroke":"#111","strokeWidth":1.7,"opacity":1},
  "encoding":{"x":{"field":"x","type":"quantitative"},"y":{"field":"y","type":"quantitative"}}},
 {"data":{"values":[{"t":"72","x":87.3,"y":106},{"t":"10","x":135,"y":106},{"t":"74","x":184.3,"y":106}]},
  "mark":{"type":"text","fontSize":14,"fontWeight":"bold","color":"white","baseline":"middle"},
  "encoding":{"text":{"field":"t"},"x":{"field":"x","type":"quantitative"},"y":{"field":"y","type":"quantitative"}}},
 {"data":{"values":[{"t":"TgCRND8 6 Month","x":13.7,"y":101},{"t":"Plaque  Signature","x":13.7,"y":110.7},{"t":"DAM signature","x":253,"y":101},{"t":"P=2x10⁻¹⁰","x":137,"y":169}]},
  "mark":{"type":"text","fontSize":8,"fontWeight":"bold","color":"#333","baseline":"middle"},
  "encoding":{"text":{"field":"t"},"x":{"field":"x","type":"quantitative"},"y":{"field":"y","type":"quantitative"}}},
 {"data":{"values":[{"t":"D"}]},"mark":{"type":"text","fontSize":22,"fontWeight":"bold","color":"#000","align":"left","baseline":"middle"},"encoding":{"text":{"field":"t"},"x":{"value":-34},"y":{"value":27}}}
 ]
}
]
}
